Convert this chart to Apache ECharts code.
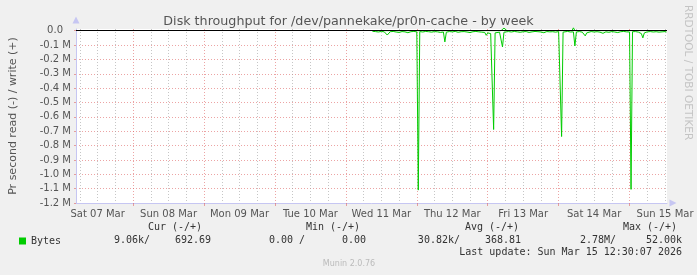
<!DOCTYPE html>
<html>
<head>
<meta charset="utf-8">
<script src="https://cdn.jsdelivr.net/npm/echarts@6/dist/echarts.min.js"></script>
<style>
  html, body { margin: 0; padding: 0; background: #f0f0f0; }
  #chart { width: 697px; height: 275px; }
</style>
</head>
<body>
<div id="chart"></div>
<script>
// Time is expressed in hours since Sat 07 Mar 2026 00:00
const xMin = 4.67;
const xMax = 204.67;
const midnightHours = [24, 48, 72, 96, 120, 144, 168, 192];
const sixHourHours = [6, 12, 18, 30, 36, 42, 54, 60, 66, 78, 84, 90, 102, 108, 114, 126, 132, 138, 150, 156, 162, 174, 180, 186, 198, 204];
const labelHours = [12, 36, 60, 84, 108, 132, 156, 180, 204];
const dayLabels = ['Sat 07 Mar', 'Sun 08 Mar', 'Mon 09 Mar', 'Tue 10 Mar', 'Wed 11 Mar', 'Thu 12 Mar', 'Fri 13 Mar', 'Sat 14 Mar', 'Sun 15 Mar'];
const yTicks = [0, -100000, -200000, -300000, -400000, -500000, -600000, -700000, -800000, -900000, -1000000, -1100000, -1200000];

// read (negative) series, values in kB/s
const readHours = [105, 106, 107, 108, 109, 110, 111, 112, 113, 114, 115, 116, 117, 118, 119, 120, 120.5, 121, 122, 123, 124, 125, 126, 127, 128, 129, 129.5, 130, 131, 132, 133, 134, 135, 136, 137, 138, 139, 140, 141, 142, 143, 143.5, 144, 145, 145.5, 146, 146.5, 147, 148, 148.5, 149, 149.5, 150, 151, 152, 153, 154, 155, 156, 157, 158, 159, 160, 161, 162, 163, 164, 165, 166, 167, 168, 168.5, 169, 169.5, 170, 171, 172, 173, 173.5, 174, 175, 176, 176.5, 177, 177.5, 178, 179, 180, 181, 182, 183, 184, 185, 186, 187, 188, 189, 190, 191, 192, 192.5, 193, 194, 195, 196, 196.5, 197, 198, 199, 200, 201, 202, 203, 204, 204.5];
const readValues = [-4, -6, -9, -5, -8, -30, -7, -5, -9, -12, -6, -8, -14, -7, -5, -8, -1110, -6, -9, -5, -7, -10, -6, -8, -12, -9, -78, -10, -6, -8, -5, -11, -7, -6, -9, -13, -7, -5, -8, -10, -12, -32, -15, -20, -20, -688, -15, -8, -10, -9, -113, -10, -7, -6, -9, -5, -8, -11, -7, -6, -12, -8, -5, -7, -9, -14, -6, -8, -7, -10, -6, -8, -737, -10, -7, -5, -9, -8, -106, -9, -6, -10, -20, -36, -15, -8, -6, -9, -7, -10, -18, -8, -11, -6, -9, -13, -7, -5, -8, -9, -1105, -7, -6, -10, -20, -50, -15, -8, -6, -9, -7, -10, -8, -6, -9];

// write (positive) series, values in kB/s
const writeHours = [105, 148.5, 149.5, 150.5, 172.5, 173, 173.5, 204.5];
const writeValues = [0.5, 0.6, 18, 0.7, 0.5, 20, 0.6, 0.7];

const statHeaders = ['Cur (-/+)', 'Min (-/+)', 'Avg (-/+)', 'Max (-/+)'];
const statValues = ['9.06k/', '692.69', '0.00 /', '0.00', '30.82k/', '368.81', '2.78M/', '52.00k'];
const lastUpdate = 'Last update: Sun Mar 15 12:30:07 2026';

const readData = readHours.map((h, i) => [h, readValues[i] * 1000]);
const writeData = writeHours.map((h, i) => [h, writeValues[i] * 1000]);

const SANS = 'DejaVu Sans';
const MONO = 'DejaVu Sans Mono';
const TXT = '#555555';
const RED = 'rgba(220, 90, 90, 0.55)';
const GREY = 'rgba(160, 160, 160, 0.6)';
const AXIS = '#c6c6f2';
const GREEN = '#00cc00';

const headerCenters = [175, 333, 492, 650];
const valueRights = [150, 211, 305, 366, 460, 521, 616, 682];

const graphics = [];
statHeaders.forEach((t, i) => graphics.push({
  type: 'text', x: headerCenters[i], y: 227,
  style: { text: t, font: '10px ' + MONO, fill: '#333', align: 'center', verticalAlign: 'middle' }
}));
statValues.forEach((t, i) => graphics.push({
  type: 'text', x: valueRights[i], y: 240,
  style: { text: t, font: '10px ' + MONO, fill: '#333', align: 'right', verticalAlign: 'middle' }
}));
graphics.push({
  type: 'text', x: 682, y: 252,
  style: { text: lastUpdate, font: '10px ' + MONO, fill: '#333', align: 'right', verticalAlign: 'middle' }
});
graphics.push({
  type: 'text', x: 349, y: 264,
  style: { text: 'Munin 2.0.76', font: '8px ' + SANS, fill: '#bbbbbb', align: 'center', verticalAlign: 'middle' }
});
graphics.push({
  type: 'text', x: 688, y: 5, rotation: -Math.PI / 2,
  style: { text: 'RRDTOOL / TOBI OETIKER', font: '10.5px ' + SANS, fill: '#c4c4c4', align: 'left', verticalAlign: 'middle' }
});

const chart = echarts.init(document.getElementById('chart'), null, { renderer: 'canvas' });
chart.setOption({
  backgroundColor: '#f0f0f0',
  animation: false,
  title: {
    text: 'Disk throughput for /dev/pannekake/pr0n-cache - by week',
    left: 'center', top: 10,
    textStyle: { fontFamily: SANS, fontSize: 12.7, fontWeight: 'normal', color: TXT }
  },
  legend: {
    data: ['Bytes'], left: 14, top: 230, icon: 'rect', itemWidth: 7, itemHeight: 7,
    selectedMode: false,
    textStyle: { fontFamily: MONO, fontSize: 10, color: '#333', lineHeight: 12 }
  },
  grid: {
    left: 67, top: 29, width: 600, height: 174,
    show: true, backgroundColor: '#ffffff', borderWidth: 0, containLabel: false
  },
  xAxis: [
    {
      type: 'value', min: xMin, max: xMax, position: 'bottom',
      axisLine: { show: true, onZero: false, lineStyle: { color: AXIS, width: 1 },
        symbol: ['none', 'triangle'], symbolSize: [7, 7], symbolOffset: [0, 6] },
      axisTick: { show: true, customValues: midnightHours, length: 3, lineStyle: { color: RED } },
      axisLabel: {
        customValues: labelHours, margin: 6,
        fontFamily: SANS, fontSize: 10, color: TXT,
        formatter: v => dayLabels[labelHours.indexOf(Math.round(v))] || ''
      },
      splitLine: { show: true, lineStyle: { color: RED, type: [1, 2], width: 1 } }
    },
    {
      type: 'value', min: xMin, max: xMax, position: 'top',
      axisLine: { show: false }, axisLabel: { show: false },
      axisTick: { show: false, customValues: sixHourHours },
      splitLine: { show: true, lineStyle: { color: GREY, type: [1, 2], width: 1 } }
    }
  ],
  yAxis: {
    type: 'value', min: -1200000, max: 12000,
    name: 'Pr second read (-) / write (+)', nameLocation: 'middle', nameGap: 57, nameRotate: 90,
    nameTextStyle: { fontFamily: SANS, fontSize: 11, color: TXT },
    axisLine: { show: true, onZero: false, lineStyle: { color: AXIS, width: 1 },
      symbol: ['none', 'triangle'], symbolSize: [7, 7], symbolOffset: [0, 9] },
    axisTick: { show: true, customValues: yTicks, length: 2, lineStyle: { color: RED } },
    axisLabel: {
      customValues: yTicks, margin: 5, fontFamily: SANS, fontSize: 10, color: TXT,
      formatter: v => v === 0 ? '{z|0.0}' : (v / 1e6).toFixed(1) + ' M',
      rich: { z: { fontFamily: SANS, fontSize: 10, color: TXT, padding: [0, 8, 0, 0] } }
    },
    splitLine: { show: true, lineStyle: { color: RED, type: [1, 2], width: 1 } }
  },
  series: [
    {
      name: 'Bytes', type: 'line', data: readData, xAxisIndex: 0,
      showSymbol: false, symbol: 'none', color: GREEN,
      lineStyle: { color: GREEN, width: 1 }, z: 3,
      markLine: {
        silent: true, symbol: 'none', label: { show: false },
        lineStyle: { color: '#000', width: 1.2, type: 'solid' },
        data: [{ yAxis: 0 }], z: 5
      }
    },
    {
      name: 'Bytes', type: 'line', data: writeData, xAxisIndex: 0,
      showSymbol: false, symbol: 'none', color: GREEN, clip: false,
      lineStyle: { color: GREEN, width: 1 }, z: 4
    }
  ],
  graphic: graphics
});
</script>
</body>
</html>
